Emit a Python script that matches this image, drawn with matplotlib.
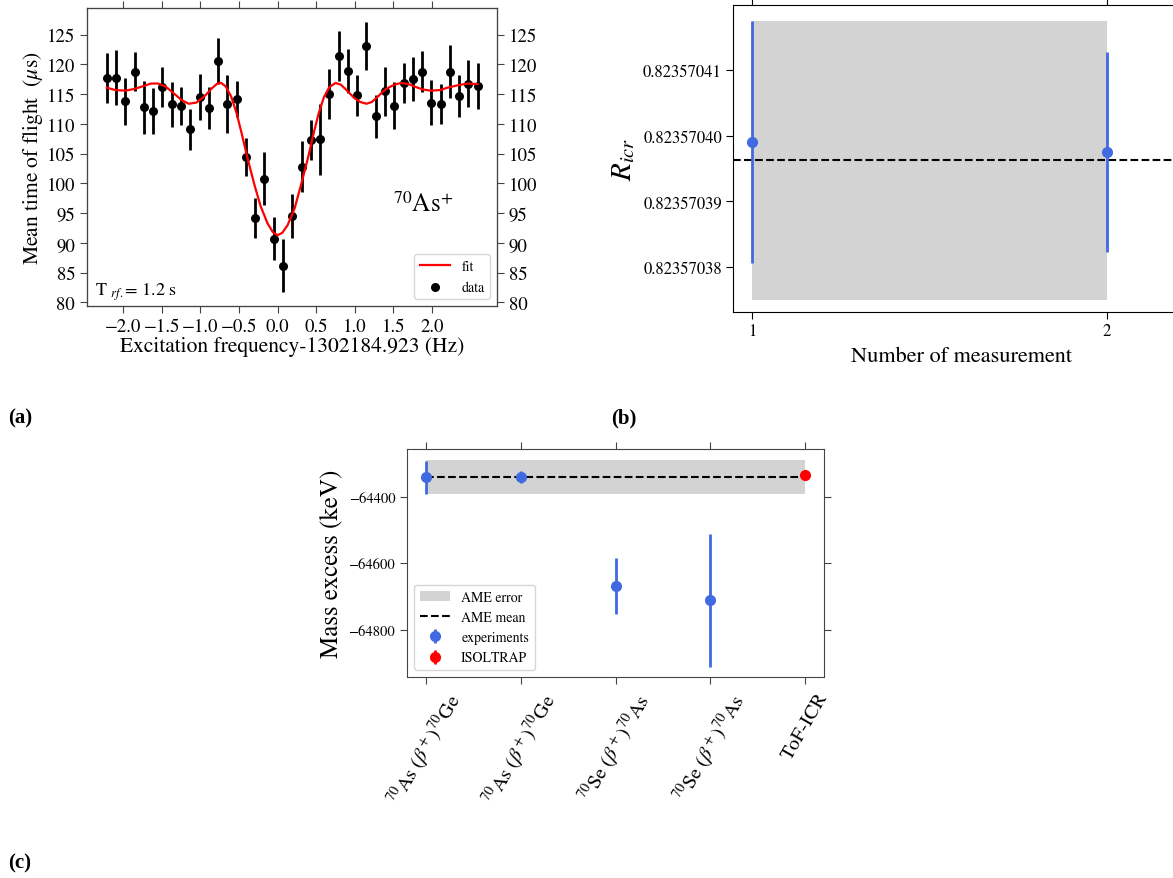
import numpy as np
import matplotlib
matplotlib.use('Agg')
import matplotlib.pyplot as plt
from matplotlib.ticker import FormatStrFormatter, FuncFormatter

plt.rcParams['font.family'] = ['STIXGeneral', 'DejaVu Serif']
plt.rcParams['mathtext.fontset'] = 'stix'

# ---- panel (a): TOF resonance ----
freq = [-2.21, -2.09, -1.97, -1.85, -1.73, -1.61, -1.49, -1.37, -1.25, -1.13,
        -1.01, -0.89, -0.77, -0.65, -0.53, -0.41, -0.29, -0.17, -0.05, 0.07,
        0.19, 0.31, 0.43, 0.55, 0.67, 0.79, 0.91, 1.03, 1.15, 1.27,
        1.39, 1.51, 1.63, 1.75, 1.87, 1.99, 2.11, 2.23, 2.35, 2.47, 2.59]
tof = [117.8, 117.8, 113.8, 118.8, 112.8, 112.2, 116.2, 113.3, 113.0, 109.1,
       114.5, 112.7, 120.6, 113.3, 114.2, 104.5, 94.2, 100.8, 90.7, 86.2,
       94.6, 102.8, 107.3, 107.4, 115.1, 121.4, 118.9, 114.8, 123.1, 111.3,
       115.5, 113.1, 116.9, 117.6, 118.8, 113.6, 113.4, 118.8, 114.7, 116.8, 116.4]
tof_err = [4.2, 4.6, 3.9, 3.3, 4.5, 3.9, 3.4, 3.8, 3.2, 3.4,
           3.9, 3.5, 3.8, 4.9, 3.1, 3.2, 3.3, 4.5, 3.6, 4.5,
           3.7, 4.3, 3.4, 5.9, 4.2, 4.2, 3.7, 3.5, 4.1, 3.6,
           4.1, 3.9, 3.3, 3.7, 3.4, 3.8, 3.4, 4.5, 3.6, 4.0, 3.9]

fit_x = [-2.21, -2.10, -1.97, -1.85, -1.73, -1.64, -1.55, -1.45, -1.33, -1.24,
         -1.15, -1.05, -0.95, -0.85, -0.78, -0.73, -0.67, -0.60, -0.53, -0.47,
         -0.39, -0.30, -0.22, -0.13, -0.06, 0.00, 0.06, 0.13, 0.22, 0.30,
         0.39, 0.47, 0.53, 0.60, 0.67, 0.75, 0.82, 0.90, 0.99, 1.07,
         1.15, 1.22, 1.29, 1.36, 1.42, 1.51, 1.60, 1.70, 1.77, 1.88,
         1.98, 2.10, 2.20, 2.33, 2.46, 2.59]
fit_y = [116.1, 115.7, 115.6, 115.9, 116.4, 116.8, 116.8, 116.3, 115.0, 114.0,
         113.4, 113.6, 114.6, 116.0, 116.8, 116.9, 116.3, 114.6, 111.8, 108.7,
         104.3, 99.8, 96.2, 93.3, 91.8, 91.3, 91.7, 93.0, 95.8, 99.6,
         104.1, 108.6, 111.7, 114.5, 116.2, 116.9, 116.6, 115.6, 114.4, 113.7,
         113.4, 113.7, 114.5, 115.4, 116.0, 116.6, 116.9, 116.7, 116.3, 115.8,
         115.6, 115.7, 116.1, 116.5, 116.8, 116.7]

# ---- panel (b): frequency ratios ----
meas_no = [1, 2]
r_icr = [0.8235703990, 0.8235703975]
r_icr_err = [1.85e-8, 1.52e-8]
r_mean = 0.8235703962
r_mean_err = 2.12e-8

# ---- panel (c): mass excess ----
methods = [r'$^{70}$As ($\beta^+$)$^{70}$Ge', r'$^{70}$As ($\beta^+$)$^{70}$Ge',
           r'$^{70}$Se ($\beta^+$)$^{70}$As', r'$^{70}$Se ($\beta^+$)$^{70}$As',
           'ToF-ICR']
exp_me = [-64342, -64340, -64667, -64711]
exp_err = [49, 18, 84, 199]
isoltrap_me = [-64335]
isoltrap_err = [2]
ame_mean = -64340
ame_err = 51

fig = plt.figure(figsize=(11.73, 8.79), dpi=100)
spine_col = '#444444'
minus_fmt = lambda fmt: FuncFormatter(lambda v, p: (fmt % v).replace('-', '\u2212'))

# (a)
ax = fig.add_axes([0.0742, 0.6507, 0.3495, 0.3391])
ax.errorbar(freq, tof, yerr=tof_err, fmt='none', ecolor='black', elinewidth=2)
h_data = ax.scatter(freq, tof, color='black', s=30, zorder=3, label='data')
h_fit, = ax.plot(fit_x, fit_y, color='red', lw=1.6, label='fit', zorder=4)
ax.set_xlim(-2.466, 2.84)
ax.set_ylim(79.4, 129.5)
ax.set_xticks(np.arange(-2.0, 2.01, 0.5))
ax.xaxis.set_major_formatter(minus_fmt('%.1f'))
ax.set_yticks(np.arange(80, 126, 5))
ax.tick_params(labelsize=13.5, direction='out', length=5, color=spine_col)
ax.set_xlabel('Excitation frequency-1302184.923 (Hz)', fontsize=15.5, labelpad=1)
ax.set_ylabel(r'Mean time of flight  ($\mu$s)', fontsize=15.5, labelpad=1)
ax.text(1.5, 95.4, r'$^{70}$As$^{+}$', fontsize=18)
ax.text(-2.36, 81.3, r'T $_{rf.}$= 1.2 s', fontsize=13)
ax.legend(handles=[h_fit, h_data], loc='lower right', fontsize=10,
          handlelength=2.2, borderpad=0.4)
ax2 = ax.twinx()
ax2.set_ylim(ax.get_ylim())
ax2.set_yticks(np.arange(80, 126, 5))
ax2.tick_params(labelsize=13.5, direction='out', length=5, color=spine_col)
ax3 = ax.twiny()
ax3.set_xlim(ax.get_xlim())
ax3.set_xticks(np.arange(-2.0, 2.01, 0.5))
ax3.tick_params(labeltop=False, direction='out', length=5, color=spine_col)
for a in (ax, ax2, ax3):
    for s in a.spines.values():
        s.set_color(spine_col)

# (b)
bx = fig.add_axes([0.6249, 0.6439, 0.3896, 0.3493])
bx.fill_between(meas_no, r_mean - r_mean_err, r_mean + r_mean_err,
                color='lightgray', lw=0)
bx.axhline(r_mean, color='black', ls='--', lw=1.5)
bx.errorbar(meas_no, r_icr, yerr=r_icr_err, fmt='o', color='royalblue',
            elinewidth=2, markersize=7)
bx.set_xlim(0.9465, 2.234)
bx.set_ylim(0.8235703731, 0.8235704199)
bx.set_xticks(meas_no)
bx.set_yticks([0.82357038, 0.82357039, 0.82357040, 0.82357041])
bx.yaxis.set_major_formatter(FormatStrFormatter('%.8f'))
bx.tick_params(labelsize=12, top=True, length=5, pad=3)
bx.set_xlabel('Number of measurement', fontsize=16, labelpad=5)
bx.set_ylabel(r'$R_{icr}$', fontsize=21, labelpad=4)

# (c)
cx = fig.add_axes([0.347, 0.2287, 0.3555, 0.2594])
xpos = np.arange(len(methods))
h_band = cx.fill_between([xpos[0], xpos[-1]], ame_mean - ame_err, ame_mean + ame_err,
                         color='lightgray', lw=0, label='AME error')
h_mean, = cx.plot([xpos[0], xpos[-1]], [ame_mean, ame_mean], 'k--', lw=1.5,
                  label='AME mean')
h_exp = cx.errorbar(xpos[:4], exp_me, yerr=exp_err, fmt='o', color='royalblue',
                    elinewidth=2, markersize=7, label='experiments')
h_iso = cx.errorbar(xpos[4:], isoltrap_me, yerr=isoltrap_err, fmt='o', color='red',
                    elinewidth=2, markersize=7, label='ISOLTRAP')
cx.set_xlim(-0.2, 4.2)
cx.set_ylim(-64941, -64257)
cx.set_yticks([-64800, -64600, -64400])
cx.yaxis.set_major_formatter(minus_fmt('%d'))
cx.set_xticks(xpos)
cx.set_xticklabels(methods, rotation=60, fontsize=14.5)
cx.tick_params(axis='y', labelsize=10.5, length=5, color=spine_col)
cx.tick_params(axis='y', which='both', right=True, direction='out')
cx.tick_params(axis='x', top=True, length=5, color=spine_col)
for s in cx.spines.values():
    s.set_color(spine_col)
cx.set_ylabel('Mass excess (keV)', fontsize=18, labelpad=4)
cx.legend(handles=[h_band, h_mean, h_exp, h_iso], loc='lower left', fontsize=10,
          handlelength=2.2)

fig.text(0.007, 0.518, '(a)', fontsize=15, fontweight='bold',
         family='Liberation Serif')
fig.text(0.521, 0.518, '(b)', fontsize=15, fontweight='bold',
         family='Liberation Serif')
fig.text(0.007, 0.012, '(c)', fontsize=15, fontweight='bold',
         family='Liberation Serif')

fig.savefig('out.png', dpi=100)
